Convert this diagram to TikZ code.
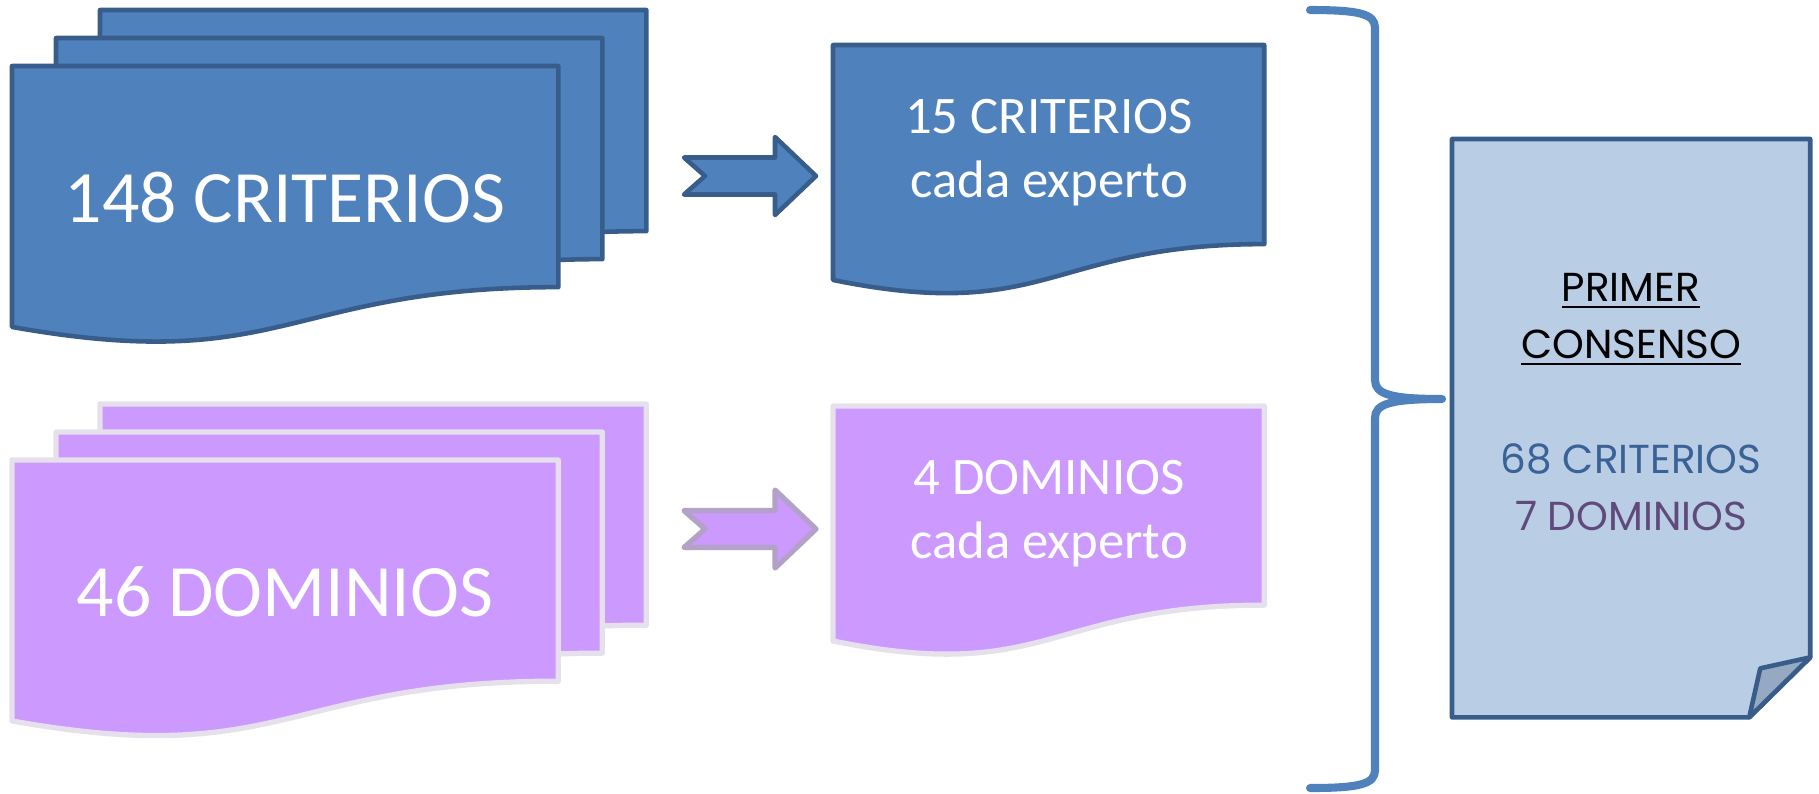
\documentclass[tikz,border=0pt]{standalone}
\usepackage{fontspec}
\setmainfont{Carlito}
\newfontfamily\sumfont{Poppins}
\usetikzlibrary{calc}

\definecolor{critfill}{HTML}{4F81BD}
\definecolor{critline}{HTML}{385D8A}
\definecolor{domfill}{HTML}{CC99FF}
\definecolor{domline}{HTML}{E6E0EC}
\definecolor{domarrow}{HTML}{B3A2C7}
\definecolor{sumfill}{HTML}{B9CDE5}
\definecolor{sumfold}{HTML}{95A9C2}
\definecolor{critnum}{HTML}{3B6296}
\definecolor{domnum}{HTML}{604A7B}

\tikzset{
  sheet/.style={rectangle, inner sep=0pt, outer sep=0pt, minimum width=5.46cm, minimum height=2.21cm, anchor=north west},
  slip/.style={sheet, minimum width=4.31cm, minimum height=1.99cm},
  critpaper/.style={fill=critfill, draw=critline, line width=1.3pt, line join=round},
  dompaper/.style={fill=domfill, draw=domline, line width=1.5pt, line join=round},
  sumpaper/.style={fill=sumfill, draw=critline, line width=1.3pt, line join=round},
  bigtxt/.style={text=white, font=\fontsize{21}{25}\selectfont},
  midtxt/.style={text=white, align=center, font=\fontsize{15}{18.2}\selectfont},
  sumtxt/.style={align=center, font=\sumfont\fontsize{11.5}{16.2}\selectfont},
  bracket/.style={draw=critfill, line width=2.3pt, line cap=round, line join=round},
}

% sheet with a wavy lower edge, drawn round an empty node
\newcommand{\wavesheet}[2]{%
  \path[#2] let \p1=($(#1.north)-(#1.south)$) in
    (#1.north west) -- (#1.north east) -- (#1.south east)
    .. controls (#1.south) and ($(#1.south)+(0pt,-0.40*\y1)$)
    .. ($(#1.south west)+(0pt,-0.18*\y1)$) -- cycle;}

% notched block arrow, from the notch
\newcommand{\notcharrow}[2]{%
  \path[#1] (#2) ++(0,18.5) -- ++(91,0) -- ++(0,20.5) -- ++(41,-39)
    -- ++(-41,-39) -- ++(0,20.5) -- ++(-91,0) -- ++(21,18.5) -- cycle;}

\begin{document}
\begin{tikzpicture}[x=0.01cm,y=0.01cm]
  \useasboundingbox (0,0) rectangle (1819,-793);

  % criterios
  \node[sheet] (crit3) at (100,-10) {};
  \wavesheet{crit3}{critpaper}
  \node[sheet] (crit2) at (56,-38) {};
  \wavesheet{crit2}{critpaper}
  \node[sheet] (crit1) at (12,-66) {};
  \wavesheet{crit1}{critpaper}
  \node[bigtxt] (crittxt) at (285,-198) {148 CRITERIOS};

  \coordinate (critarrow) at (684,-176);
  \notcharrow{critpaper}{critarrow}

  \node[slip] (critbox) at (833,-45) {};
  \wavesheet{critbox}{critpaper}
  \node[midtxt] (critboxtxt) at (1049,-153) {15 CRITERIOS\\cada experto};

  % dominios
  \node[sheet] (dom3) at (100,-404) {};
  \wavesheet{dom3}{dompaper}
  \node[sheet] (dom2) at (56,-432) {};
  \wavesheet{dom2}{dompaper}
  \node[sheet] (dom1) at (12,-460) {};
  \wavesheet{dom1}{dompaper}
  \node[bigtxt] (domtxt) at (285,-592) {46 DOMINIOS};

  \coordinate (domarrow) at (684,-529);
  \notcharrow{dompaper, draw=domarrow}{domarrow}

  \node[slip] (dombox) at (833,-406) {};
  \wavesheet{dombox}{dompaper}
  \node[midtxt] (domboxtxt) at (1049,-514) {4 DOMINIOS\\cada experto};

  % llave
  \draw[bracket] (1310,-10) .. controls (1360,-10) and (1375,-14) .. (1375,-28)
    -- (1375,-380) .. controls (1375,-394) and (1390,-399) .. (1442,-399)
    .. controls (1390,-399) and (1375,-404) .. (1375,-418)
    -- (1375,-770) .. controls (1375,-784) and (1360,-788) .. (1310,-788);

  % consenso
  \node[sheet, minimum width=3.58cm, minimum height=5.78cm] (sumdoc) at (1452,-139) {};
  \path[sumpaper] (sumdoc.north west) -- (sumdoc.north east)
    -- ($(sumdoc.south east)+(0,60)$) -- ($(sumdoc.south east)+(-61,0)$)
    -- (sumdoc.south west) -- cycle;
  \path[sumpaper, fill=sumfold] ($(sumdoc.south east)+(-61,0)$)
    -- ($(sumdoc.south east)+(-50,49)$) -- ($(sumdoc.south east)+(0,60)$) -- cycle;
  \node[sumtxt] (sumtitle) at (1631,-320) {\underline{PRIMER}\\\underline{CONSENSO}};
  \node[sumtxt] (sumcount) at (1631,-487) {\textcolor{critnum}{68 CRITERIOS}\\\textcolor{domnum}{7 DOMINIOS}};
\end{tikzpicture}
\end{document}
